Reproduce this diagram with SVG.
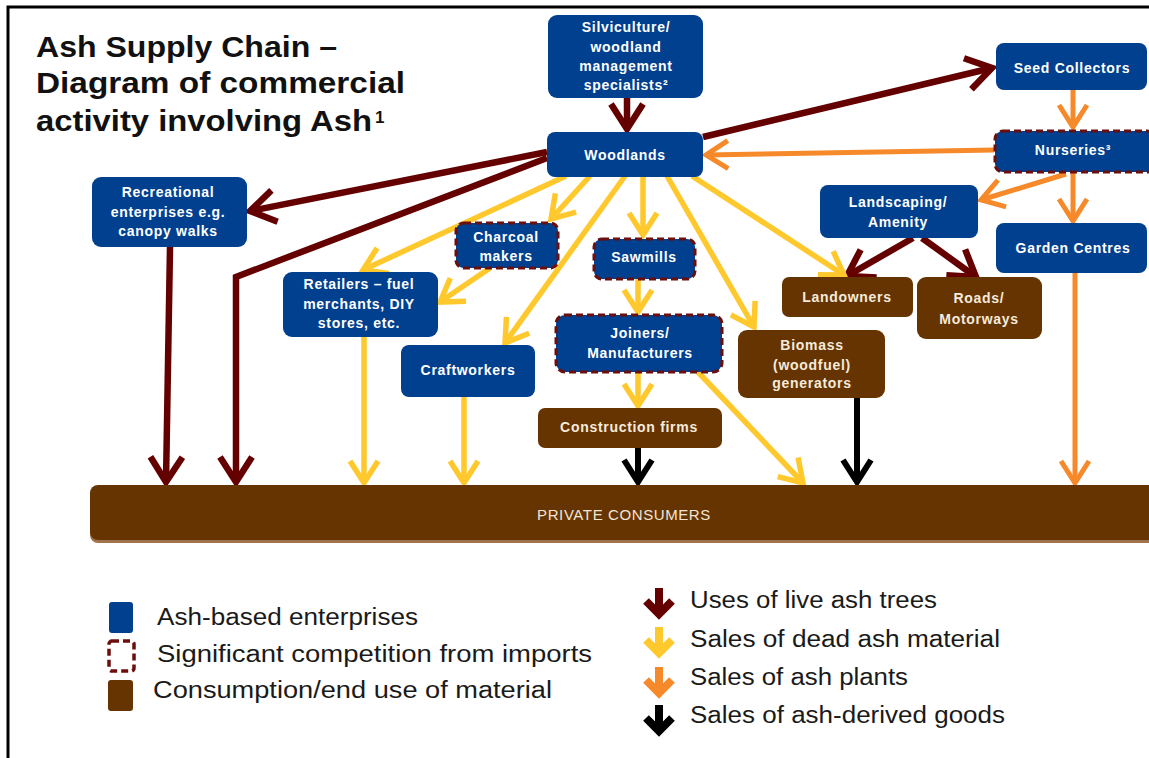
<svg xmlns="http://www.w3.org/2000/svg" width="1149" height="758" viewBox="0 0 1149 758">
<style>
.blue{fill:#013F8F}
.brown{fill:#653400}
.dash{stroke:#6B0E0E;stroke-width:3;stroke-dasharray:7 4}
.nt{font-family:"Liberation Sans",Arial,sans-serif;font-weight:bold;font-size:14px;letter-spacing:0.7px;fill:#fff;text-anchor:middle}
.bt{fill:#F5EADC}
.title{font-family:"Liberation Sans",Arial,sans-serif;font-weight:bold;font-size:29px;fill:#111}
.sup{font-family:"Liberation Sans",Arial,sans-serif;font-weight:bold;font-size:17px;fill:#111}
.lg{font-family:"Liberation Sans",Arial,sans-serif;font-size:23px;fill:#1a1a1a}
.c{fill:none;stroke-linejoin:miter}
.red{stroke:#650000;stroke-width:6.5}
.yel{stroke:#FFC92E;stroke-width:5.5}
.org{stroke:#F68A2B;stroke-width:5}
.blk{stroke:#000;stroke-width:6}
</style>
<defs>
<marker id="mRed" markerUnits="userSpaceOnUse" markerWidth="60" markerHeight="60" refX="0" refY="0" orient="auto" viewBox="-40 -30 60 60" overflow="visible"><path d="M-25,-16 L0,0 L-25,16" fill="none" stroke="#650000" stroke-width="6.5"/></marker>
<marker id="mYel" markerUnits="userSpaceOnUse" markerWidth="60" markerHeight="60" refX="0" refY="0" orient="auto" viewBox="-40 -30 60 60" overflow="visible"><path d="M-22,-14 L0,0 L-22,14" fill="none" stroke="#FFC92E" stroke-width="5.5"/></marker>
<marker id="mOrg" markerUnits="userSpaceOnUse" markerWidth="60" markerHeight="60" refX="0" refY="0" orient="auto" viewBox="-40 -30 60 60" overflow="visible"><path d="M-22,-14 L0,0 L-22,14" fill="none" stroke="#F68A2B" stroke-width="5"/></marker>
<marker id="mBlk" markerUnits="userSpaceOnUse" markerWidth="60" markerHeight="60" refX="0" refY="0" orient="auto" viewBox="-40 -30 60 60" overflow="visible"><path d="M-22,-14 L0,0 L-22,14" fill="none" stroke="#000" stroke-width="6"/></marker>
</defs>
<rect width="1149" height="758" fill="#fff"/>
<path d="M8,758 V7 H1149" fill="none" stroke="#000" stroke-width="3"/>

<g id="title">
<text class="title" x="36" y="57" textLength="301" lengthAdjust="spacingAndGlyphs">Ash Supply Chain –</text>
<text class="title" x="36" y="93" textLength="369" lengthAdjust="spacingAndGlyphs">Diagram of commercial</text>
<text class="title" x="36" y="131" textLength="336" lengthAdjust="spacingAndGlyphs">activity involving Ash</text>
<text class="sup" x="375" y="123">1</text>
</g>

<g id="connectors">
<!-- live ash trees -->
<line class="c red" x1="627" y1="98" x2="627" y2="129" marker-end="url(#mRed)"/>
<line class="c red" x1="703" y1="137" x2="992" y2="68" marker-end="url(#mRed)"/>
<line class="c red" x1="547" y1="152" x2="250" y2="211" marker-end="url(#mRed)"/>
<polyline class="c red" points="547,158 236,277 236,482" marker-end="url(#mRed)"/>
<line class="c red" x1="170" y1="247" x2="166" y2="482" marker-end="url(#mRed)"/>
<line class="c red" x1="913" y1="238" x2="847" y2="276" marker-end="url(#mRed)"/>
<line class="c red" x1="922" y1="238" x2="976" y2="277" marker-end="url(#mRed)"/>
<!-- dead ash material -->
<line class="c yel" x1="590" y1="176" x2="551" y2="219" marker-end="url(#mYel)"/>
<line class="c yel" x1="566" y1="176" x2="363" y2="270" marker-end="url(#mYel)"/>
<line class="c yel" x1="625" y1="176" x2="505" y2="343" marker-end="url(#mYel)"/>
<line class="c yel" x1="643" y1="176" x2="643" y2="235" marker-end="url(#mYel)"/>
<line class="c yel" x1="667" y1="176" x2="754" y2="327" marker-end="url(#mYel)"/>
<line class="c yel" x1="692" y1="176" x2="844" y2="275" marker-end="url(#mYel)"/>
<line class="c yel" x1="490" y1="268" x2="440" y2="302" marker-end="url(#mYel)"/>
<line class="c yel" x1="638" y1="279" x2="638" y2="312" marker-end="url(#mYel)"/>
<line class="c yel" x1="638" y1="372" x2="638" y2="406" marker-end="url(#mYel)"/>
<line class="c yel" x1="698" y1="372" x2="803" y2="483" marker-end="url(#mYel)"/>
<line class="c yel" x1="364" y1="337" x2="364" y2="483" marker-end="url(#mYel)"/>
<line class="c yel" x1="464" y1="397" x2="464" y2="483" marker-end="url(#mYel)"/>
<!-- ash-derived goods -->
<line class="c blk" x1="638" y1="448" x2="638" y2="482" marker-end="url(#mBlk)"/>
<line class="c blk" x1="857" y1="398" x2="857" y2="482" marker-end="url(#mBlk)"/>
<!-- ash plants -->
<line class="c org" x1="1073" y1="90" x2="1073" y2="127" marker-end="url(#mOrg)"/>
<line class="c org" x1="994" y1="150" x2="706" y2="155" marker-end="url(#mOrg)"/>
<line class="c org" x1="1066" y1="174" x2="981" y2="200" marker-end="url(#mOrg)"/>
<line class="c org" x1="1073" y1="173" x2="1073" y2="221" marker-end="url(#mOrg)"/>
<line class="c org" x1="1075" y1="273" x2="1075" y2="483" marker-end="url(#mOrg)"/>
</g>

<g id="silviculture">
<rect class="blue" x="548" y="15" width="155" height="83" rx="9"/>
<text class="nt" x="626" y="32">Silviculture/</text>
<text class="nt" x="626" y="52">woodland</text>
<text class="nt" x="626" y="71">management</text>
<text class="nt" x="626" y="90">specialists²</text>
</g>
<g id="woodlands">
<rect class="blue" x="547" y="132" width="156" height="45" rx="8"/>
<text class="nt" x="625" y="160">Woodlands</text>
</g>
<g id="seed-collectors">
<rect class="blue" x="996" y="43" width="151" height="47" rx="8"/>
<text class="nt" x="1072" y="73">Seed Collectors</text>
</g>
<g id="nurseries">
<rect class="blue dash" x="995" y="131" width="160" height="41" rx="8"/>
<text class="nt" x="1073" y="155">Nurseries³</text>
</g>
<g id="landscaping">
<rect class="blue" x="820" y="185" width="158" height="53" rx="8"/>
<text class="nt" x="898" y="207">Landscaping/</text>
<text class="nt" x="898" y="227">Amenity</text>
</g>
<g id="garden-centres">
<rect class="blue" x="996" y="223" width="151" height="50" rx="8"/>
<text class="nt" x="1073" y="253">Garden Centres</text>
</g>
<g id="recreational">
<rect class="blue" x="92" y="177" width="155" height="70" rx="9"/>
<text class="nt" x="168" y="197">Recreational</text>
<text class="nt" x="168" y="217">enterprises e.g.</text>
<text class="nt" x="168" y="236">canopy walks</text>
</g>
<g id="charcoal">
<rect class="blue dash" x="456" y="223" width="102" height="45" rx="8"/>
<text class="nt" x="506" y="242">Charcoal</text>
<text class="nt" x="506" y="261">makers</text>
</g>
<g id="retailers">
<rect class="blue" x="283" y="272" width="155" height="65" rx="9"/>
<text class="nt" x="359" y="289">Retailers – fuel</text>
<text class="nt" x="359" y="309">merchants, DIY</text>
<text class="nt" x="359" y="328">stores, etc.</text>
</g>
<g id="craftworkers">
<rect class="blue" x="401" y="345" width="134" height="52" rx="8"/>
<text class="nt" x="468" y="375">Craftworkers</text>
</g>
<g id="sawmills">
<rect class="blue dash" x="594" y="239" width="101" height="40" rx="8"/>
<text class="nt" x="644" y="262">Sawmills</text>
</g>
<g id="joiners">
<rect class="blue dash" x="556" y="315" width="166" height="57" rx="9"/>
<text class="nt" x="640" y="338">Joiners/</text>
<text class="nt" x="640" y="358">Manufacturers</text>
</g>
<g id="construction">
<rect class="brown" x="538" y="408" width="184" height="40" rx="7"/>
<text class="nt bt" x="629" y="432">Construction firms</text>
</g>
<g id="landowners">
<rect class="brown" x="782" y="277" width="131" height="40" rx="7"/>
<text class="nt bt" x="847" y="302">Landowners</text>
</g>
<g id="roads">
<rect class="brown" x="917" y="277" width="125" height="62" rx="9"/>
<text class="nt bt" x="979" y="303">Roads/</text>
<text class="nt bt" x="979" y="324">Motorways</text>
</g>
<g id="biomass">
<rect class="brown" x="738" y="330" width="147" height="68" rx="9"/>
<text class="nt bt" x="812" y="350">Biomass</text>
<text class="nt bt" x="812" y="370">(woodfuel)</text>
<text class="nt bt" x="812" y="388">generators</text>
</g>
<g id="private-consumers">
<rect x="90" y="487" width="1070" height="56" rx="8" fill="#A0734A"/>
<rect class="brown" x="90" y="485" width="1070" height="55" rx="8"/>
<text x="624" y="520" font-family="'Liberation Sans',Arial,sans-serif" font-size="15" letter-spacing="0.6" fill="#F3E6D6" text-anchor="middle">PRIVATE  CONSUMERS</text>
</g>

<g id="legend">
<rect class="blue" x="109" y="602" width="24" height="31" rx="3"/>
<text class="lg" x="157" y="625" textLength="261" lengthAdjust="spacingAndGlyphs">Ash-based enterprises</text>
<rect x="109" y="641" width="25" height="30" rx="3" fill="none" stroke="#6B0E0E" stroke-width="3.5" stroke-dasharray="7 4"/>
<text class="lg" x="157" y="662" textLength="435" lengthAdjust="spacingAndGlyphs">Significant competition from imports</text>
<rect class="brown" x="108" y="680" width="25" height="31" rx="3"/>
<text class="lg" x="153" y="698" textLength="399" lengthAdjust="spacingAndGlyphs">Consumption/end use of material</text>

<path d="M659,588 V610 M646,601 L659,614 L672,601" fill="none" stroke="#650000" stroke-width="8"/>
<text class="lg" x="690" y="608" textLength="247" lengthAdjust="spacingAndGlyphs">Uses of live ash trees</text>
<path d="M659,627 V649 M646,640 L659,653 L672,640" fill="none" stroke="#FFC92E" stroke-width="8"/>
<text class="lg" x="690" y="647" textLength="310" lengthAdjust="spacingAndGlyphs">Sales of dead ash material</text>
<path d="M659,667 V689 M646,680 L659,693 L672,680" fill="none" stroke="#F68A2B" stroke-width="8"/>
<text class="lg" x="690" y="685" textLength="218" lengthAdjust="spacingAndGlyphs">Sales of ash plants</text>
<path d="M659,705 V727 M646,718 L659,731 L672,718" fill="none" stroke="#000" stroke-width="8"/>
<text class="lg" x="690" y="723" textLength="315" lengthAdjust="spacingAndGlyphs">Sales of ash-derived goods</text>
</g>
</svg>
